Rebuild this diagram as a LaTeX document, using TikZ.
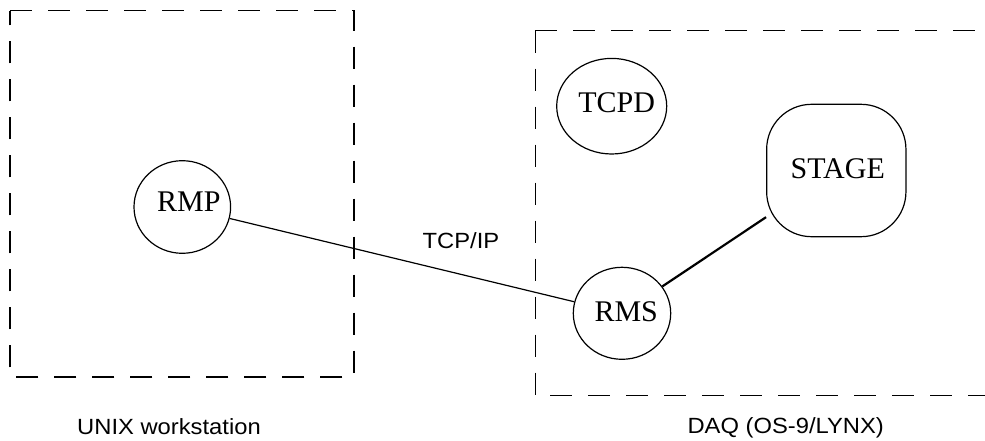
\documentclass[tikz,border=0pt]{standalone}
\usepackage{fontspec}
\setmainfont{Liberation Serif}
\newfontfamily\labfont[FakeStretch=1.08]{Liberation Sans}
\usetikzlibrary{shapes.geometric}
\begin{document}
\begin{tikzpicture}[x=1pt,y=-1pt,
  boxline/.style={line width=1.2pt, dash pattern=on 22pt off 16pt},
  ell/.style={ellipse, draw, line width=1.2pt, inner sep=0pt},
  rbox/.style={rectangle, rounded corners=45pt, draw, line width=1.2pt, inner sep=0pt},
  nodetext/.style={anchor=base, inner sep=0pt, font=\fontsize{30}{36}\selectfont},
  labtext/.style={anchor=base, inner sep=0pt, font=\labfont\fontsize{22}{26}\selectfont},
  thin/.style={line width=1.2pt},
  thick2/.style={line width=2.2pt}]
\useasboundingbox (0,0) rectangle (985,441);
% dashed boxes
\draw[boxline] (10,10.7) -- (354,10.7) -- (354,377) -- (10,377) -- cycle;
\draw[boxline] (535.3,30.7) -- (985,30.7);
\draw[boxline] (535.3,30.7) -- (535.3,395.7) -- (985,395.7);
% nodes
\node[ell, minimum width=96.6pt, minimum height=92.6pt] (rmp) at (182.3,207) {};
\node[nodetext] (rmpt) at (188.8,211.7) {RMP};
\node[ell, minimum width=110pt, minimum height=95.6pt] (tcpd) at (611.7,106.2) {};
\node[nodetext] (tcpdt) at (616.7,112.7) {TCPD};
\node[rbox, minimum width=139.3pt, minimum height=132.4pt] (stage) at (836.3,170.5) {};
\node[nodetext] (staget) at (837.7,178.3) {STAGE};
\node[ell, minimum width=97.4pt, minimum height=92pt] (rms) at (622,313.3) {};
\node[nodetext] (rmst) at (626.2,321) {RMS};
% connectors
\draw[thin] (rmp) -- (rms);
\draw[thick2] (rms) -- (stage);
% labels
\node[labtext] (tcpip) at (461,248.3) {TCP/IP};
\node[labtext] (unix) at (169,434.3) {UNIX workstation};
\node[labtext] (daq) at (785.7,433.3) {DAQ (OS-9/LYNX)};
\end{tikzpicture}
\end{document}
